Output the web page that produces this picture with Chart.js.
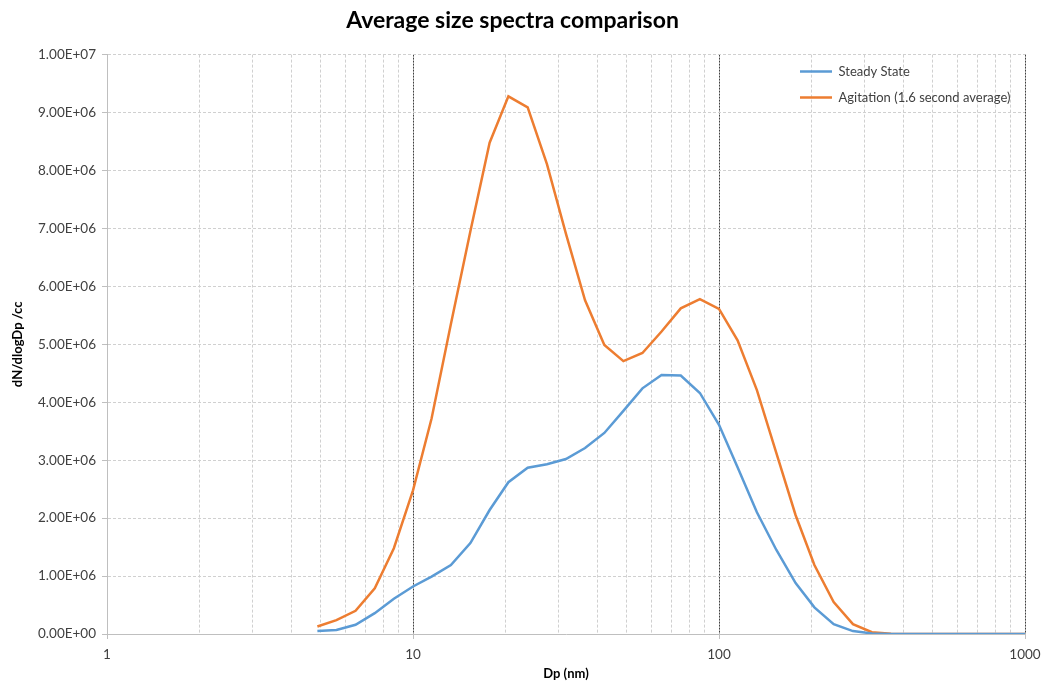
<!DOCTYPE html>
<html>
<head>
<meta charset="utf-8">
<script src="https://cdn.jsdelivr.net/npm/chart.js@4/dist/chart.umd.min.js"></script>
<style>
  html, body { margin: 0; padding: 0; background: #fff; }
  #wrap { width: 1042px; height: 686px; }
</style>
</head>
<body>
<div id="wrap"><canvas id="myChart"></canvas></div>
<script>
// particle diameter, nm (16 channels per decade)
var dp = [4.87, 5.62, 6.49, 7.50, 8.66, 10.0, 11.5, 13.3, 15.4, 17.8, 20.5, 23.7, 27.4, 31.6, 36.5, 42.2,
          48.7, 56.2, 64.9, 75.0, 86.6, 100, 115, 133, 154, 178, 205, 237, 274, 316, 365, 422,
          487, 562, 649, 750, 866, 1000];
// dN/dlogDp, in millions per cc
var steadyState = [0.05, 0.07, 0.16, 0.36, 0.61, 0.82, 0.99, 1.19, 1.57, 2.14, 2.62, 2.87, 2.93, 3.02, 3.21, 3.47,
                   3.85, 4.24, 4.47, 4.46, 4.16, 3.61, 2.88, 2.10, 1.45, 0.88, 0.46, 0.17, 0.05, 0.01, 0, 0,
                   0, 0, 0, 0, 0, 0];
var agitation = [0.13, 0.24, 0.40, 0.79, 1.48, 2.48, 3.72, 5.35, 6.95, 8.48, 9.28, 9.09, 8.11, 6.91, 5.76, 4.99,
                 4.71, 4.85, 5.22, 5.62, 5.78, 5.61, 5.07, 4.21, 3.12, 2.05, 1.19, 0.55, 0.17, 0.03, 0.005, 0,
                 0, 0, 0, 0, 0, 0];
var seriesNames = ['Steady State', 'Agitation (1.6 second average)'];
var majorTicks = [1, 10, 100, 1000];
var gridTicks = [1, 2, 3, 4, 5, 6, 7, 8, 9, 10, 20, 30, 40, 50, 60, 70, 80, 90,
                 100, 200, 300, 400, 500, 600, 700, 800, 900, 1000];

function pts(vals) {
  return vals.map(function (v, i) { return { x: dp[i], y: v * 1e6 }; });
}

function sci(v) {
  var s = Number(v).toExponential(2).toUpperCase();
  return s.replace(/E([+-])(\d)$/, 'E$10$2');
}

function isMajor(ctx) {
  return ctx.tick && majorTicks.indexOf(ctx.tick.value) >= 0;
}

var font = "Lato, 'Open Sans', sans-serif";

var legendSpot = {
  id: 'legendSpot',
  afterLayout: function (chart) {
    var lg = chart.legend;
    lg.left = 787;
    lg.right = 787 + lg.width;
    lg.top = 52;
    lg.bottom = 52 + lg.height;
  }
};

var ctx = document.getElementById('myChart');
var myChart = new Chart(ctx, {
  type: 'line',
  data: {
    datasets: [{
      label: seriesNames[0],
      data: pts(steadyState),
      borderColor: '#5b9bd5',
      backgroundColor: '#5b9bd5',
      borderWidth: 2.5,
      pointRadius: 0,
      tension: 0
    }, {
      label: seriesNames[1],
      data: pts(agitation),
      borderColor: '#ed7d31',
      backgroundColor: '#ed7d31',
      borderWidth: 2.5,
      pointRadius: 0,
      tension: 0
    }]
  },
  options: {
    responsive: true,
    maintainAspectRatio: false,
    animation: false,
    layout: { padding: { left: 0, right: 17, top: 0, bottom: 0 } },
    plugins: {
      title: {
        display: true,
        text: 'Average size spectra comparison',
        color: '#000',
        font: { family: font, size: 23, weight: 'bold' },
        padding: { top: 7, bottom: 20 }
      },
      legend: {
        position: 'chartArea',
        align: 'start',
        labels: {
          usePointStyle: true,
          pointStyle: 'line',
          pointStyleWidth: 32,
          padding: 13,
          color: '#404040',
          font: { family: font, size: 13 }
        }
      },
      tooltip: { enabled: false }
    },
    scales: {
      x: {
        type: 'logarithmic',
        min: 1,
        max: 1000,
        afterBuildTicks: function (scale) {
          scale.ticks = gridTicks.map(function (v) { return { value: v }; });
        },
        afterFit: function (scale) {
          scale.height = 52;
          scale.paddingRight = 10;
          scale.paddingLeft = 10;
        },
        ticks: {
          autoSkip: false,
          maxRotation: 0,
          padding: 8,
          color: '#404040',
          font: { family: font, size: 13.5 },
          callback: function (v) { return majorTicks.indexOf(v) >= 0 ? String(v) : ''; }
        },
        grid: {
          color: function (c) { return isMajor(c) ? '#404040' : '#d0d0d0'; },
          lineWidth: 1,
          tickLength: 5,
          tickColor: function (c) { return isMajor(c) ? '#bfbfbf' : 'rgba(0,0,0,0)'; },
          tickBorderDash: []
        },
        border: {
          color: '#bfbfbf',
          width: 1,
          dash: function (c) { return isMajor(c) ? [2, 1] : [3, 2]; }
        },
        title: {
          display: true,
          text: 'Dp (nm)',
          color: '#000',
          font: { family: font, size: 13, weight: 'bold' },
          padding: { top: 0, bottom: 4 }
        }
      },
      y: {
        min: 0,
        max: 1e7,
        afterFit: function (scale) { scale.width = 107; },
        ticks: {
          stepSize: 1e6,
          padding: 6,
          color: '#404040',
          font: { family: font, size: 13.5 },
          callback: function (v) { return sci(v); }
        },
        grid: {
          color: '#d0d0d0',
          lineWidth: 1,
          tickLength: 5,
          tickColor: '#bfbfbf',
          tickBorderDash: []
        },
        border: {
          color: '#bfbfbf',
          width: 1,
          dash: [3, 2]
        },
        title: {
          display: true,
          text: 'dN/dlogDp /cc',
          color: '#000',
          font: { family: font, size: 13, weight: 'bold' },
          padding: { top: 10, bottom: 0 }
        }
      }
    }
  },
  plugins: [legendSpot]
});
</script>
</body>
</html>
